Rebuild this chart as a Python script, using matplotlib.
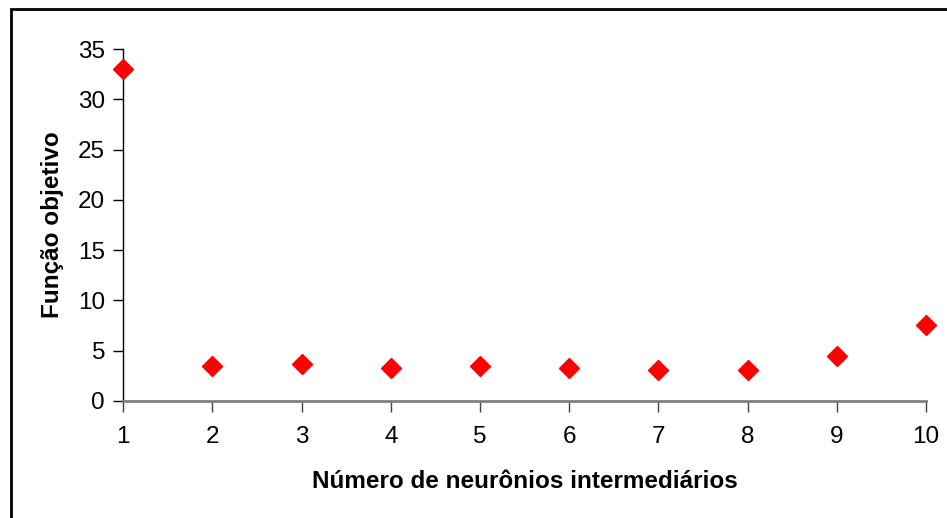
import matplotlib.pyplot as plt
import matplotlib.patches as mpatches

# numero de neuronios x funcao objetivo
neurons = [1, 2, 3, 4, 5, 6, 7, 8, 9, 10]
objective = [33.0, 3.5, 3.7, 3.3, 3.5, 3.3, 3.1, 3.1, 4.5, 7.6]
y_ticks = [0, 5, 10, 15, 20, 25, 30, 35]

plt.rcParams['font.family'] = ['Liberation Sans', 'DejaVu Sans']

fig = plt.figure(figsize=(9.47, 5.18), dpi=100)
ax = fig.add_axes([0.13, 0.226, 0.848, 0.679])

ax.plot(neurons, objective, linestyle='none', marker='D', markersize=10,
        color='#ff0000', clip_on=False, zorder=3)

ax.set_xlim(1, 10)
ax.set_ylim(0, 35)
ax.set_xticks(neurons)
ax.set_yticks(y_ticks)

for s in ['top', 'right']:
    ax.spines[s].set_visible(False)
ax.spines['left'].set_color('black')
ax.spines['left'].set_linewidth(1)
ax.spines['bottom'].set_color('#808080')
ax.spines['bottom'].set_linewidth(2)

ax.tick_params(axis='y', direction='out', length=7, width=1, labelsize=17.5, pad=6)
ax.tick_params(axis='x', direction='out', length=8, width=1, color='#404040',
               labelsize=17.5, pad=10)

ax.set_xlabel('Número de neurônios intermediários', fontsize=17.5, fontweight='bold', labelpad=16)
ax.set_ylabel('Função objetivo', fontsize=17.5, fontweight='bold', labelpad=10)

# moldura do grafico (estilo Excel)
border = mpatches.Rectangle((11 / 947, -0.1), 1.2, 1.1 - 9 / 518,
                            transform=fig.transFigure, fill=False,
                            edgecolor='black', linewidth=2, clip_on=False)
fig.patches.append(border)

fig.savefig('out.png', dpi=100)
